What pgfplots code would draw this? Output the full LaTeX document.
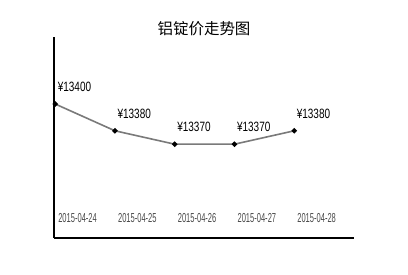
\documentclass[border=0pt]{standalone}
\usepackage{pgfplots}
\pgfplotsset{compat=1.18}
\usepackage{fontspec}
\setmainfont{Liberation Sans}
\newfontfamily\lsans{Liberation Sans}
\newfontfamily\cjk{Noto Sans CJK SC}
\definecolor{linegray}{HTML}{7A7A7A}
\definecolor{dategray}{HTML}{4A4A4A}
\newcommand\pricefont{\lsans\fontsize{13.5}{13.5}\selectfont}
\begin{document}
\begin{tikzpicture}
\path[use as bounding box,fill=white] (0pt,0pt) rectangle (408pt,275pt);
\node[font=\cjk\fontsize{15.5}{15.5}\selectfont] at (204pt,246.5pt) {铝锭价走势图};
\begin{axis}[
  at={(54pt,37pt)}, anchor=south west,
  scale only axis, width=300pt, height=201pt,
  xmin=-0.02, xmax=5, ymin=13300, ymax=13450,
  axis x line=bottom, axis y line=left,
  axis line style={-, line width=2pt, black},
  xtick=\empty, ytick=\empty,
  clip=false,
  nodes near coords={\pricefont ¥\pgfmathprintnumber[1000 sep={},fixed,precision=0,assume math mode=true]{\pgfplotspointmeta}},
  nodes near coords style={anchor=west, xshift=2pt, yshift=17pt, inner sep=0pt,
    xscale=0.74, text=black},
]
\addplot[linegray, line width=1.6pt, mark=*, mark size=1.8pt,
  mark options={black, fill=black}]
  coordinates {(0,13400) (1,13380) (2,13370) (3,13370) (4,13380)};
\foreach \i/\d in {0/24,1/25,2/26,3/27,4/28}{
  \edef\tmp{\noexpand\node[anchor=west, inner sep=0pt, xscale=0.58,
    font=\noexpand\lsans\noexpand\fontsize{13}{13}\noexpand\selectfont, text=dategray]
    at (axis cs:\i+0.05,13315) {2015-04-\d};}
  \tmp
}
\end{axis}
\end{tikzpicture}
\end{document}
